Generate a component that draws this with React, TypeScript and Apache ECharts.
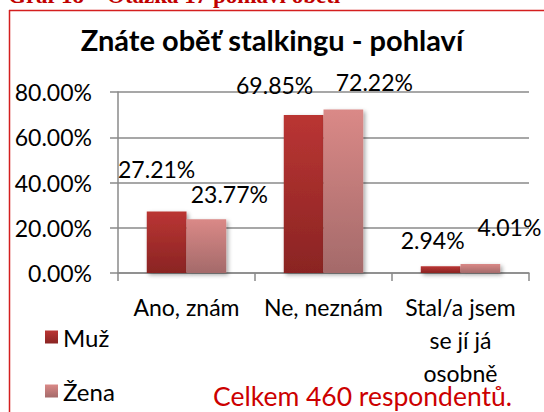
import React, { useEffect, useRef } from "react";
import * as echarts from "echarts";

const categories = ["Ano, znám", "Ne, neznám", "Stal/a jsem\nse jí já\nosobně"];
const seriesNames = ["Muž", "Žena"];
const muzValues = [27.21, 69.85, 2.94];
const zenaValues = [23.77, 72.22, 4.01];
const yTicks = [0, 20, 40, 60, 80];

// label nudges (Excel-style manual label placement)
const muzLabelShift = [[-10, -26], [-29, -13], [-8, -10]];
const zenaLabelShift = [[23, -9], [31, -11], [29, -20]];

const FONT = "Lato";

export default function App() {
  const ref = useRef<HTMLDivElement>(null);
  useEffect(() => {
    const chart = echarts.init(ref.current!, null, { renderer: "svg" });
    const grad = (a: string, b: string) =>
      new echarts.graphic.LinearGradient(0, 0, 0, 1, [
        { offset: 0, color: a },
        { offset: 1, color: b },
      ]);
    const mkData = (vals: number[], shifts: number[][]) =>
      vals.map((v, i) => ({ value: v, label: { offset: shifts[i] } }));
    const barStyle = (a: string, b: string) => ({
      color: grad(a, b),
      shadowColor: "rgba(0,0,0,0.35)",
      shadowBlur: 4,
      shadowOffsetX: 2,
      shadowOffsetY: 2,
    });
    const label = {
      show: true,
      position: "top" as const,
      distance: 5,
      fontFamily: FONT,
      fontSize: 23,
      color: "#000",
      formatter: (p: any) => Number(p.value).toFixed(2) + "%",
    };
    chart.setOption({
      animation: false,
      backgroundColor: "#fff",
      grid: { left: 118, right: 15, top: 92, bottom: 139 },
      title: {
        text: "Znáte oběť stalkingu - pohlaví",
        left: "center",
        top: 20,
        textStyle: { fontFamily: FONT, fontWeight: "bold", fontSize: 29, color: "#000" },
      },
      legend: {
        orient: "vertical",
        left: 40,
        top: 320,
        itemWidth: 13,
        itemHeight: 13,
        itemGap: 30,
        icon: "rect",
        textStyle: { fontFamily: FONT, fontSize: 24, color: "#000" },
        data: seriesNames,
      },
      xAxis: {
        type: "category",
        data: categories,
        axisLine: { lineStyle: { color: "#8a8a8a", width: 1.5 } },
        axisTick: { show: true, length: 8, alignWithLabel: false, lineStyle: { color: "#8a8a8a", width: 1.5 } },
        axisLabel: { fontFamily: FONT, fontSize: 23, color: "#000", lineHeight: 33, margin: 17, interval: 0 },
      },
      yAxis: {
        type: "value",
        min: yTicks[0],
        max: yTicks[yTicks.length - 1],
        interval: 20,
        axisLine: { show: true, lineStyle: { color: "#8a8a8a", width: 1.5 } },
        axisTick: { show: true, length: 8, lineStyle: { color: "#8a8a8a", width: 1.5 } },
        splitLine: { show: true, lineStyle: { color: "#8a8a8a", width: 1.5 } },
        axisLabel: {
          fontFamily: FONT,
          fontSize: 23,
          color: "#000",
          margin: 26,
          formatter: (v: number) => v.toFixed(2) + "%",
        },
      },
      series: [
        {
          name: seriesNames[0],
          type: "bar",
          data: mkData(muzValues, muzLabelShift),
          barGap: "0%",
          barCategoryGap: "42%",
          itemStyle: barStyle("#ba3533", "#8a2423"),
          label,
        },
        {
          name: seriesNames[1],
          type: "bar",
          data: mkData(zenaValues, zenaLabelShift),
          barGap: "0%",
          barCategoryGap: "42%",
          itemStyle: barStyle("#da8987", "#a46a6a"),
          label,
        },
      ],
      graphic: [
        {
          type: "text",
          left: 8,
          top: -16,
          style: {
            text: "Graf 18 – Otázka 17 pohlaví oběti",
            fontFamily: "Liberation Serif",
            fontWeight: "bold",
            fontSize: 23,
            fill: "#c00000",
          },
        },
        {
          type: "line",
          shape: { x1: 9, y1: 10.5, x2: 544, y2: 10.5 },
          style: { stroke: "#d41f1f", lineWidth: 1.5 },
        },
        {
          type: "line",
          shape: { x1: 9.5, y1: 10, x2: 9.5, y2: 412 },
          style: { stroke: "#d41f1f", lineWidth: 1.5 },
        },
        {
          type: "text",
          left: 213,
          top: 382,
          style: {
            text: "Celkem 460 respondentů.",
            fontFamily: FONT,
            fontSize: 26.5,
            fill: "#cc0000",
          },
        },
      ],
    });
    return () => chart.dispose();
  }, []);
  return (
    <div
      ref={ref}
      style={{ position: "fixed", left: 0, top: 0, width: 544, height: 412 }}
    />
  );
}
